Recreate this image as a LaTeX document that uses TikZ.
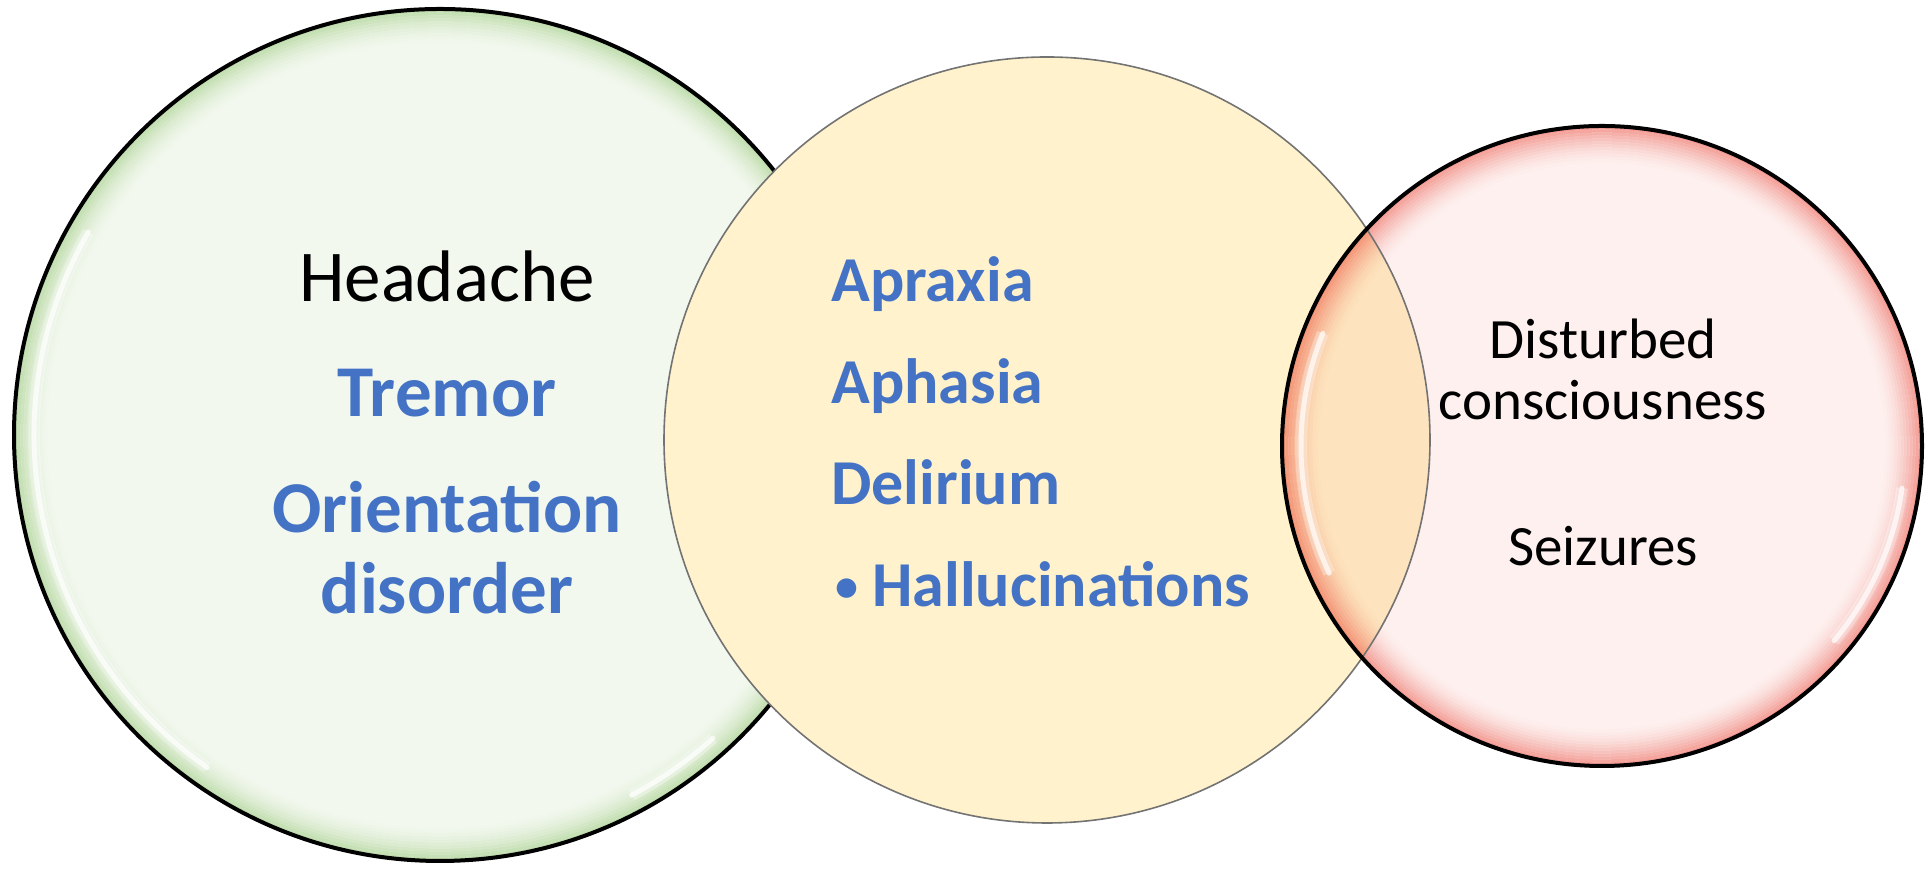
\documentclass[tikz,border=0pt]{standalone}
\usepackage{fontspec}
\setmainfont{Carlito}
\usepackage{xcolor}
\usepackage{tikz}

\definecolor{symblue}{HTML}{4472C4}
\definecolor{grin}{HTML}{F3F8EF}
\definecolor{grout}{HTML}{B9D9A4}
\definecolor{ylw}{HTML}{FFF2CC}
\definecolor{rdin}{HTML}{FDF0EE}
\definecolor{rdout}{HTML}{F19088}

\begin{document}
\begin{tikzpicture}[x=0.5pt, y=0.5pt,
    bubble/.style={circle, inner sep=0pt, outer sep=0pt},
    rim/.style={line width=2pt, draw=black},
    glint/.style={white, line width=2.5pt, opacity=0.7, line cap=round,
      preaction={draw=white, line width=6pt, opacity=0.3}},
    bigtxt/.style={inner sep=0pt, anchor=base, font=\fontsize{36.5}{40}\selectfont},
    midtxt/.style={inner sep=0pt, anchor=base west, text=symblue, font=\fontsize{32}{36}\selectfont\bfseries},
    smalltxt/.style={inner sep=0pt, anchor=base, font=\fontsize{28.5}{32}\selectfont}]
  \useasboundingbox (0,0) rectangle (1929,870);

  % green circle
  \node[bubble, minimum size=426pt, fill=grin] (green) at (440,435) {};
  \foreach \k in {1,...,12} {
    \pgfmathtruncatemacro\pct{100*(1-\k/13)^1.7}
    \draw[line width=1.6pt, grout!\pct!grin] (green.center) circle[radius=427-3*\k];
  }
  \draw[glint] ([shift={(150:406)}]green.center) arc[start angle=150, end angle=235, radius=406];
  \draw[glint] ([shift={(-62:408)}]green.center) arc[start angle=-62, end angle=-48, radius=408];
  \draw[rim] (green.center) circle[radius=426];

  % yellow circle
  \node[bubble, minimum size=383pt, fill=ylw, draw=black!55, line width=0.8pt] (yellow) at (1047,430) {};

  % red circle
  \node[bubble, minimum size=320pt, fill=rdin] (red) at (1602,424) {};
  \foreach \k in {1,...,12} {
    \pgfmathtruncatemacro\pct{100*(1-\k/13)^1.5}
    \draw[line width=1.6pt, rdout!\pct!rdin] (red.center) circle[radius=321-3*\k];
  }
  \begin{scope}
    \clip (red.center) circle[radius=320];
    \fill[ylw, blend mode=multiply] (yellow.center) circle[radius=383];
    \draw[black!55, line width=0.8pt] (yellow.center) circle[radius=383];
  \end{scope}
  \draw[glint] ([shift={(158:301)}]red.center) arc[start angle=158, end angle=205, radius=301];
  \draw[glint] ([shift={(-40:303)}]red.center) arc[start angle=-40, end angle=-8, radius=303];
  \draw[rim] (red.center) circle[radius=320];

  % left circle
  \node[bigtxt] (headache) at (447,568) {Headache};
  \node[bigtxt, text=symblue, font=\fontsize{36.5}{40}\selectfont\bfseries] (tremor) at (447,453) {Tremor};
  \node[bigtxt, text=symblue, font=\fontsize{36.5}{40}\selectfont\bfseries] (orient) at (447,337) {Orientation};
  \node[bigtxt, text=symblue, font=\fontsize{36.5}{40}\selectfont\bfseries] (disord) at (447,256) {disorder};

  % middle circle
  \node[midtxt] (apraxia) at (831,568) {Apraxia};
  \node[midtxt] (aphasia) at (831,466) {Aphasia};
  \node[midtxt] (delirium) at (831,365) {Delirium};
  \node[midtxt] (halluc) at (835,263) {\raisebox{0.08em}{\scalebox{0.72}{•}}\hspace{0.22em}Hallucinations};

  % right circle
  \node[smalltxt] (disturbed) at (1603,511) {Disturbed};
  \node[smalltxt] (conscious) at (1603,450) {consciousness};
  \node[smalltxt] (seizures) at (1603,304) {Seizures};
\end{tikzpicture}
\end{document}
